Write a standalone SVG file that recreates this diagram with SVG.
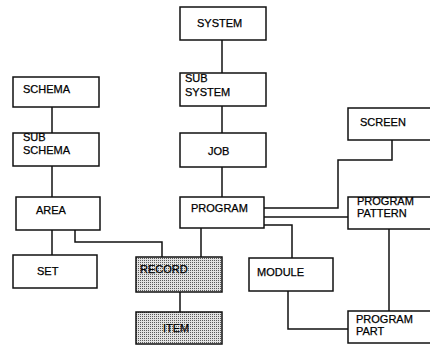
<svg xmlns="http://www.w3.org/2000/svg" width="430" height="345" viewBox="0 0 430 345">
<defs>
<pattern id="dots" width="2" height="2" patternUnits="userSpaceOnUse">
<rect width="2" height="2" fill="#e2e2e2"/>
<rect width="1" height="1" fill="#5a5a5a"/>
</pattern>
<style>
.box{fill:#fff;stroke:#111;stroke-width:1.5}
.shade{fill:url(#dots);stroke:#111;stroke-width:1.5}
.lbl{font-family:"Liberation Sans",Arial,sans-serif;font-size:11px;fill:#000;stroke:#000;stroke-width:0.25}
.con{fill:none;stroke:#111;stroke-width:1.5}
</style>
</defs>
<rect width="430" height="345" fill="#fff"/>
<g id="connectors">
<path class="con" d="M222,40V73"/>
<path class="con" d="M222,106V133"/>
<path class="con" d="M222,167V197"/>
<path class="con" d="M52,107V133"/>
<path class="con" d="M52,166V197"/>
<path class="con" d="M52,230V255"/>
<path class="con" d="M75,230V242H162V257"/>
<path class="con" d="M201,228V257"/>
<path class="con" d="M180,292V312"/>
<path class="con" d="M264,208H338V160H392V140"/>
<path class="con" d="M264,217H348"/>
<path class="con" d="M264,225H292V258"/>
<path class="con" d="M288,291V329H348"/>
<path class="con" d="M389,229V311"/>
</g>
<g id="system"><rect class="box" x="180" y="7" width="86" height="33"/><text class="lbl" x="197" y="27">SYSTEM</text></g>
<g id="subsystem"><rect class="box" x="180" y="73" width="86" height="33"/><text class="lbl" x="185" y="82">SUB</text><text class="lbl" x="185" y="96">SYSTEM</text></g>
<g id="job"><rect class="box" x="180" y="133" width="86" height="34"/><text class="lbl" x="208" y="155">JOB</text></g>
<g id="program"><rect class="box" x="180" y="197" width="84" height="31"/><text class="lbl" x="191" y="212">PROGRAM</text></g>
<g id="schema"><rect class="box" x="13" y="77" width="86" height="30"/><text class="lbl" x="23" y="93">SCHEMA</text></g>
<g id="subschema"><rect class="box" x="13" y="133" width="86" height="33"/><text class="lbl" x="23" y="141">SUB</text><text class="lbl" x="23" y="154">SCHEMA</text></g>
<g id="area"><rect class="box" x="16" y="197" width="84" height="33"/><text class="lbl" x="36" y="214">AREA</text></g>
<g id="set"><rect class="box" x="13" y="255" width="84" height="33"/><text class="lbl" x="37" y="275">SET</text></g>
<g id="record"><rect class="shade" x="136" y="257" width="86" height="35"/><text class="lbl" x="140" y="273">RECORD</text></g>
<g id="item"><rect class="shade" x="136" y="312" width="86" height="32"/><text class="lbl" x="163" y="332">ITEM</text></g>
<g id="screen"><rect class="box" x="348" y="108" width="84" height="32"/><text class="lbl" x="360" y="126">SCREEN</text></g>
<g id="pattern"><rect class="box" x="348" y="197" width="84" height="32"/><text class="lbl" x="357" y="205">PROGRAM</text><text class="lbl" x="357" y="217">PATTERN</text></g>
<g id="module"><rect class="box" x="249" y="258" width="84" height="33"/><text class="lbl" x="257" y="276">MODULE</text></g>
<g id="part"><rect class="box" x="348" y="311" width="84" height="32"/><text class="lbl" x="356" y="323">PROGRAM</text><text class="lbl" x="356" y="335">PART</text></g>
</svg>
